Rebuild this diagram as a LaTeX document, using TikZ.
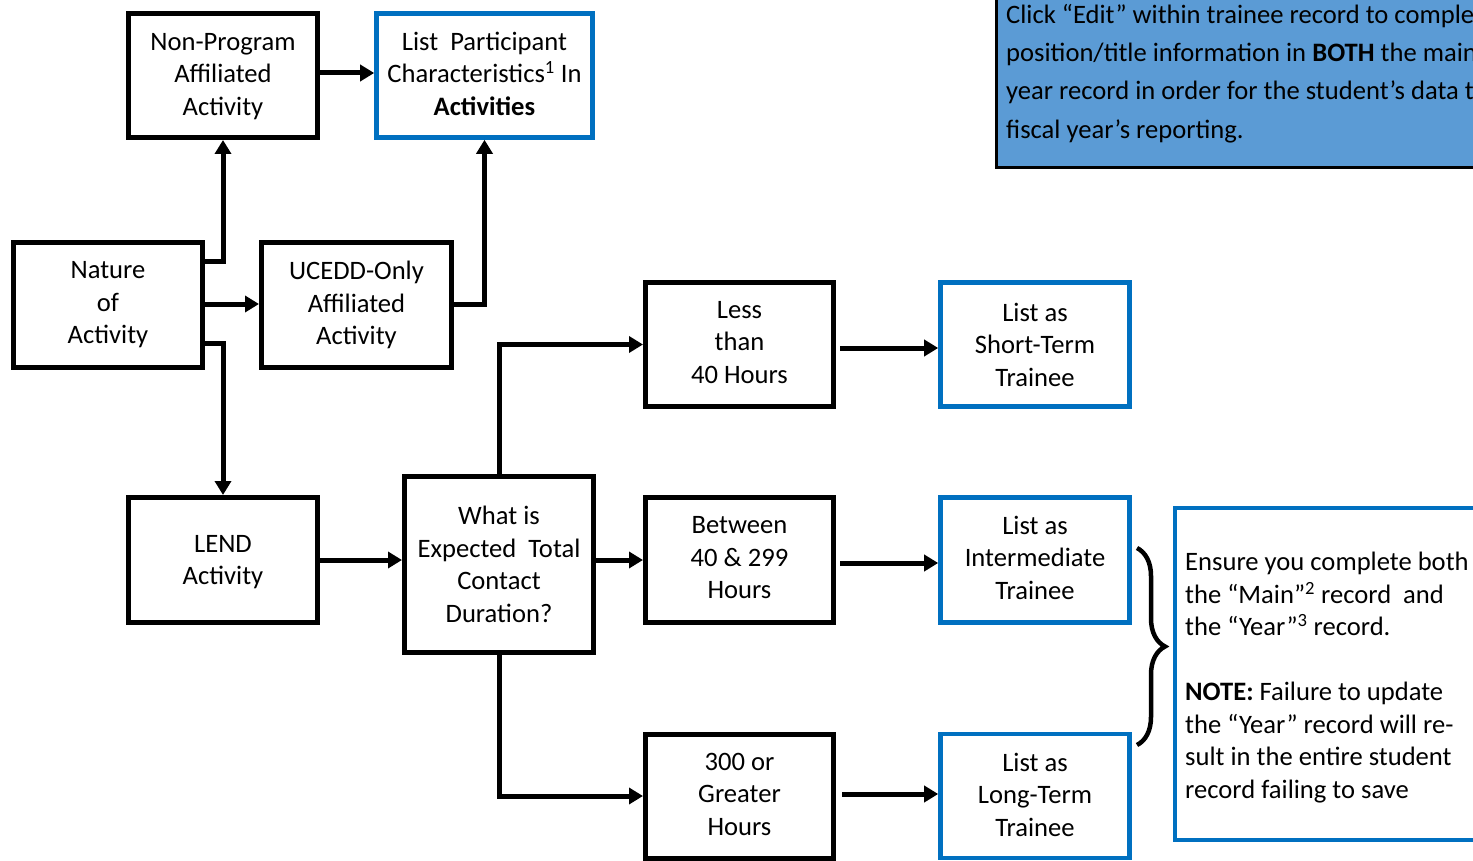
\documentclass[tikz,border=0pt]{standalone}
\usepackage{fontspec}
\setmainfont{Carlito}
\usetikzlibrary{arrows.meta,decorations.pathreplacing}
\definecolor{myblue}{HTML}{0070C0}
\definecolor{fillblue}{HTML}{5B9BD5}
\newcommand{\bodyfont}{\fontsize{26.6}{32.5}\selectfont}
\tikzset{
  box/.style={draw=black, line width=5pt, minimum width=189pt, minimum height=124pt, align=center, inner sep=0pt, font=\bodyfont},
  bbox/.style={box, line width=4.6pt, draw=myblue},
  arr/.style={line width=5pt, -{Triangle[length=14pt,width=16pt]}},
}
\begin{document}
\begin{tikzpicture}[x=1pt,y=-1pt]
\clip (0,0) rectangle (1473,861);
\fill[white] (0,0) rectangle (1473,861);
% top-right info box
\draw[line width=3pt, fill=fillblue] (996.5,-10) rectangle (1500,167.5);
\node[anchor=north west, align=left, inner sep=0pt, font=\fontsize{26.6}{38.3}\selectfont] (info) at (1006,4)
  {Click “Edit” within trainee record to complete\\position/title information in \textbf{BOTH} the main\\year record in order for the student’s data to\\fiscal year’s reporting.};
% boxes
\node[box, text depth=3pt] (npa) at (223,75.5) {Non-Program\\Affiliated\\Activity};
\node[bbox, minimum width=216pt, text depth=4pt] (lpc) at (484.5,75.5) {List~ Participant\\Characteristics\textsuperscript{1} In\\\textbf{Activities}};
\node[box, minimum height=125pt] (nat) at (108,305) {Nature\\of\\Activity};
\node[box, minimum width=190pt, minimum height=125pt] (uce) at (356.5,305) {UCEDD-Only\\Affiliated\\Activity};
\node[box, minimum height=125pt, text depth=0pt] (lend) at (223,560) {LEND\\Activity};
\node[box, minimum height=176pt] (what) at (499,564.5) {What is\\Expected~ Total\\Contact\\Duration?};
\node[box, minimum width=188pt, text depth=5pt] (less) at (739.5,344.5) {Less\\than\\40 Hours};
\node[box, minimum width=188pt, minimum height=125pt, text depth=5pt] (bet) at (739.5,560) {Between\\40 \& 299\\Hours};
\node[box, minimum width=188pt, text depth=4pt] (g300) at (739.5,796) {300 or\\Greater\\Hours};
\node[bbox] (st) at (1035,344.5) {List as\\Short-Term\\Trainee};
\node[bbox, minimum height=125pt, text depth=5pt] (inter) at (1035,560) {List as\\Intermediate\\Trainee};
\node[bbox, text depth=3pt] (lt) at (1035,796) {List as\\Long-Term\\Trainee};
% note box
\draw[myblue, line width=4.6pt] (1175,508) rectangle (1520,840);
\node[anchor=north west, align=left, inner sep=0pt, font=\bodyfont] (note) at (1185,552)
  {Ensure you complete both\\the “Main”\textsuperscript{2} record~ and\\the “Year”\textsuperscript{3} record.\\[32.5pt]\textbf{NOTE:} Failure to update\\the “Year” record will re-\\sult in the entire student\\record failing to save};
% brace
\coordinate (bt) at (1137,548);
\coordinate (bb) at (1137,745);
\draw[line width=4.5pt, decorate, decoration={brace, amplitude=28pt}] (bt) -- (bb);
% connectors
\draw[arr] (npa.east |- 0,73) -- (lpc.west |- 0,73);
\draw[arr] (nat.east |- 0,262) -| (npa.south);
\draw[arr] (nat.east |- 0,304) -- (uce.west |- 0,304);
\draw[arr] (nat.east |- 0,343) -| (lend.north);
\draw[arr] (uce.east |- 0,304) -| (lpc.south);
\draw[arr] (lend.east) -- (what.west |- lend.east);
\draw[arr] (what.north) |- (less.west);
\draw[arr] (what.east |- bet.west) -- (bet.west);
\draw[arr] (what.south) |- (g300.west);
\draw[arr] ([xshift=4pt]less.east |- 0,348) -- (st.west |- 0,348);
\draw[arr] ([xshift=4pt]bet.east |- 0,563) -- (inter.west |- 0,563);
\draw[arr] ([xshift=6pt]g300.east |- 0,794) -- (lt.west |- 0,794);
\end{tikzpicture}
\end{document}
